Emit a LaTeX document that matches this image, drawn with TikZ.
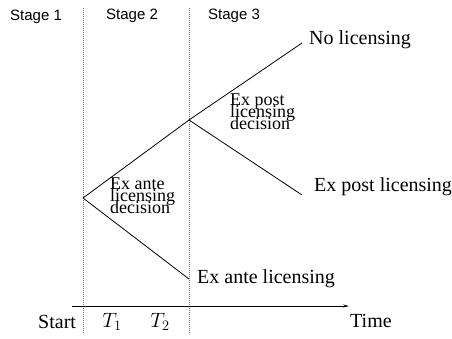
\documentclass[tikz,border=0pt]{standalone}
\usepackage{fontspec}
\setmainfont{Liberation Serif}
\setsansfont{Liberation Sans}
\usetikzlibrary{positioning, arrows.meta}
\tikzset{branch/.style={draw,line width=0.8pt}}
\tikzset{stageline/.style={draw,black!55,line width=0.8pt,dash pattern=on 1pt off 1pt}}
\tikzset{leaf/.style={anchor=base west,inner sep=0pt,font=\fontsize{20}{24}\selectfont}}
\tikzset{decision/.style={anchor=north west,inner sep=0pt,align=left,
  font=\fontsize{18}{12}\selectfont\setlength{\lineskiplimit}{-20pt}}}
\tikzset{stage/.style={anchor=base west,inner sep=0pt,font=\sffamily\fontsize{15}{18}\selectfont}}

\begin{document}
\begin{tikzpicture}[x=1pt,y=-1pt]
\useasboundingbox (0,0) rectangle (452,338);

% Stage borders
\coordinate (b1top) at (83,8);
\coordinate (b1bot) at (83,333);
\coordinate (b2top) at (189,8);
\coordinate (b2bot) at (189,333);
\path[stageline] (b1top) -- (b1bot);
\path[stageline] (b2top) -- (b2bot);

% Stage labels
\node[stage] (st1) at (10,20) {Stage 1};
\node[stage] (st2) at (106,19) {Stage 2};
\node[stage] (st3) at (208,19) {Stage 3};

% Decision points
\coordinate (exante) at (83,198);
\coordinate (expost) at (189,120);

% End points
\coordinate (nolic) at (302,43);
\coordinate (postlic) at (302,195);
\coordinate (antelic) at (189,279);

% Draw branches
\path[branch] (exante) -- (expost);
\path[branch] (exante) -- (antelic);
\path[branch] (expost) -- (nolic);
\path[branch] (expost) -- (postlic);

% Decision labels
\node[decision] (antetext) at (110,178) {Ex ante\\licensing\\decision};
\node[decision] (posttext) at (230,94) {Ex post\\licensing\\decision};

% Outcome labels
\node[leaf] (nolabel) at (309,44) {No licensing};
\node[leaf] (postlabel) at (314,191) {Ex post licensing};
\node[leaf] (antelabel) at (197,283) {Ex ante licensing};

% Time axis
\coordinate (axstart) at (72,306);
\coordinate (axend) at (349,306);
\path[draw,line width=0.8pt,-{Stealth[length=6pt,width=3pt]}] (axstart) -- (axend);

\node[leaf] (start) at (38,328) {Start};
\node[leaf,anchor=base] (t1) at (112,327) {$T_1$};
\node[leaf,anchor=base] (t2) at (160,327) {$T_2$};
\node[leaf] (time) at (350,327) {Time};

\end{tikzpicture}
\end{document}
